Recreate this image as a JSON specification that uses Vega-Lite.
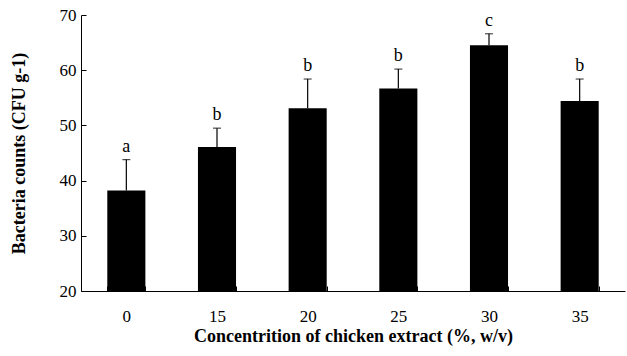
{
  "$schema": "https://vega.github.io/schema/vega-lite/v6.json",
  "width": 544,
  "height": 276,
  "autosize": "none",
  "padding": {"left": 81, "top": 15, "right": 2, "bottom": 65},
  "background": "white",
  "config": {
    "view": {"stroke": null},
    "font": "Liberation Serif",
    "axis": {"domainColor": "black", "tickColor": "black", "labelColor": "black", "titleColor": "black", "grid": false, "labelFont": "Liberation Serif", "titleFont": "Liberation Serif"}
  },
  "data": {
    "values": [
      {"conc": "0", "mean": 38.2, "err": 5.6, "group": "a"},
      {"conc": "15", "mean": 46.1, "err": 3.4, "group": "b"},
      {"conc": "20", "mean": 53.1, "err": 5.3, "group": "b"},
      {"conc": "25", "mean": 56.7, "err": 3.5, "group": "b"},
      {"conc": "30", "mean": 64.5, "err": 2.1, "group": "c"},
      {"conc": "35", "mean": 54.4, "err": 4.0, "group": "b"}
    ]
  },
  "transform": [{"calculate": "datum.mean + datum.err", "as": "upper"}],
  "encoding": {
    "x": {
      "field": "conc", "type": "nominal", "sort": null,
      "scale": {"paddingInner": 0.58, "paddingOuter": 0.29},
      "axis": {
        "title": "Concentrition of chicken extract (%, w/v)",
        "labelAngle": 0, "labelFontSize": 17, "labelPadding": 22,
        "tickBand": "extent", "tickSize": -5,
        "titleFontSize": 18, "titleFontWeight": "bold", "titlePadding": 3
      }
    }
  },
  "layer": [
    {
      "mark": {"type": "bar", "color": "black"},
      "encoding": {
        "y": {
          "field": "mean", "type": "quantitative",
          "scale": {"domain": [20, 70], "nice": false, "zero": false},
          "axis": {
            "title": "Bacteria counts (CFU g-1)",
            "values": [20, 30, 40, 50, 60, 70],
            "tickSize": -5, "labelFontSize": 17, "labelPadding": 10,
            "titleFontSize": 18, "titleFontWeight": "bold", "titlePadding": 31
          }
        },
        "y2": {"datum": 20}
      }
    },
    {
      "mark": {"type": "rule", "color": "black", "strokeWidth": 1.2},
      "encoding": {
        "y": {"field": "mean", "type": "quantitative"},
        "y2": {"field": "upper"}
      }
    },
    {
      "mark": {"type": "tick", "color": "black", "size": 8, "thickness": 1.2},
      "encoding": {
        "y": {"field": "upper", "type": "quantitative"}
      }
    },
    {
      "mark": {"type": "text", "baseline": "bottom", "dy": -4, "fontSize": 18, "font": "Liberation Serif", "color": "black"},
      "encoding": {
        "y": {"field": "upper", "type": "quantitative"},
        "text": {"field": "group"}
      }
    }
  ]
}
